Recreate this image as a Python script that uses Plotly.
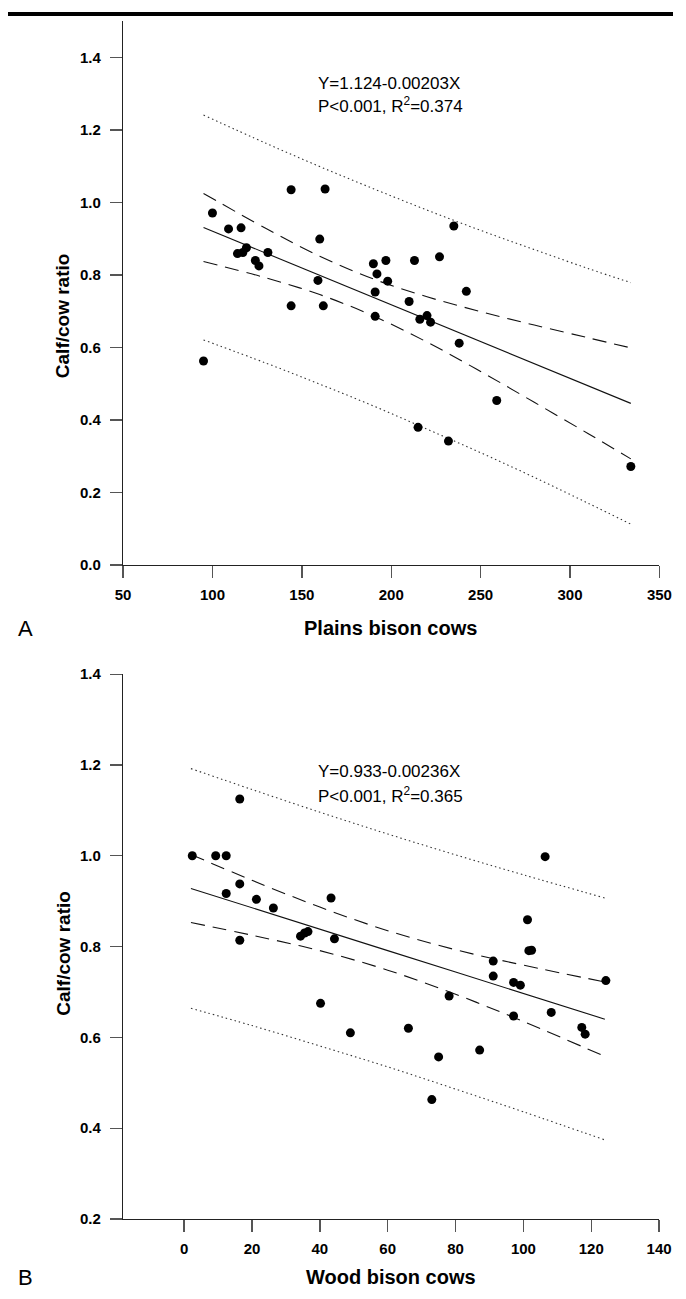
import plotly.graph_objects as go

# ---------------- Panel A: Plains bison ----------------
plains_cows = [95, 100, 109, 114, 116, 117, 119, 124, 126, 131, 144, 144, 159, 160, 162, 163,
               190, 191, 191, 192, 197, 198, 210, 213, 215, 216, 220, 222, 227, 232, 235, 238,
               242, 259, 334]
plains_ratio = [0.563, 0.971, 0.927, 0.859, 0.930, 0.862, 0.875, 0.840, 0.825, 0.862, 1.035, 0.715,
                0.785, 0.899, 0.715, 1.037, 0.831, 0.753, 0.686, 0.803, 0.840, 0.783, 0.727, 0.840,
                0.380, 0.678, 0.688, 0.670, 0.850, 0.342, 0.935, 0.612, 0.755, 0.454, 0.272]

plains_band_x = [95, 130, 160, 190, 220, 250, 280, 310, 334]
plains_fit = [0.931, 0.860, 0.799, 0.738, 0.677, 0.617, 0.556, 0.495, 0.446]
plains_ci_upper = [1.025, 0.928, 0.852, 0.789, 0.740, 0.699, 0.662, 0.627, 0.599]
plains_ci_lower = [0.837, 0.792, 0.746, 0.687, 0.615, 0.534, 0.449, 0.363, 0.293]
plains_pi_upper = [1.241, 1.163, 1.099, 1.038, 0.979, 0.923, 0.870, 0.818, 0.779]
plains_pi_lower = [0.621, 0.557, 0.499, 0.439, 0.375, 0.310, 0.242, 0.171, 0.113]

# ---------------- Panel B: Wood bison ----------------
wood_cows = [16.4, 2.4, 9.3, 12.4, 16.4, 12.4, 21.3, 26.3, 43.3, 16.4, 34.3, 35.5, 36.5, 44.3,
             106.4, 101.2, 101.6, 102.4, 91.1, 91.1, 97.1, 99.1, 124.3, 78.1, 40.2, 97.1,
             108.2, 117.2, 118.2, 49.0, 66.1, 87.1, 75.0, 73.0]
wood_ratio = [1.125, 1.000, 1.000, 1.000, 0.938, 0.917, 0.904, 0.885, 0.907, 0.814, 0.823, 0.830,
              0.833, 0.817, 0.998, 0.859, 0.791, 0.792, 0.768, 0.735, 0.721, 0.715, 0.725, 0.691,
              0.675, 0.647, 0.655, 0.622, 0.607, 0.610, 0.620, 0.572, 0.557, 0.463]

wood_band_x = [2, 20, 40, 60, 80, 100, 124]
wood_fit = [0.928, 0.886, 0.839, 0.791, 0.744, 0.697, 0.640]
wood_ci_upper = [1.003, 0.946, 0.887, 0.835, 0.793, 0.759, 0.722]
wood_ci_lower = [0.853, 0.825, 0.791, 0.748, 0.695, 0.635, 0.558]
wood_pi_upper = [1.192, 1.146, 1.096, 1.048, 1.002, 0.958, 0.907]
wood_pi_lower = [0.664, 0.626, 0.581, 0.535, 0.486, 0.436, 0.374]

plains_ticks_x = [50, 100, 150, 200, 250, 300, 350]
plains_ticks_y = [0.0, 0.2, 0.4, 0.6, 0.8, 1.0, 1.2, 1.4]
wood_ticks_x = [0, 20, 40, 60, 80, 100, 120, 140]
wood_ticks_y = [0.2, 0.4, 0.6, 0.8, 1.0, 1.2, 1.4]

W, H = 686, 1299


def px(x):
    return x / W


def py(y):
    return 1 - y / H


fig = go.Figure()

def add_panel(xref, yref, bx, fit, ciu, cil, piu, pil, xs, ys):
    common = dict(xaxis=xref, yaxis=yref, mode="lines", showlegend=False, hoverinfo="skip")
    for band in (piu, pil):
        fig.add_trace(go.Scatter(x=bx, y=band, line=dict(color="#333", width=1.1, dash="1.5px,3px", shape="spline"), **common))
    for band in (ciu, cil):
        fig.add_trace(go.Scatter(x=bx, y=band, line=dict(color="#111", width=1.1, dash="14px,8px", shape="spline"), **common))
    fig.add_trace(go.Scatter(x=bx, y=fit, line=dict(color="#111", width=1.1), **common))
    fig.add_trace(go.Scatter(x=xs, y=ys, xaxis=xref, yaxis=yref, mode="markers", showlegend=False,
                             marker=dict(color="black", size=9, line=dict(width=0))))

add_panel("x", "y", plains_band_x, plains_fit, plains_ci_upper, plains_ci_lower,
          plains_pi_upper, plains_pi_lower, plains_cows, plains_ratio)
add_panel("x2", "y2", wood_band_x, wood_fit, wood_ci_upper, wood_ci_lower,
          wood_pi_upper, wood_pi_lower, wood_cows, wood_ratio)

tickfont = dict(family="Arial, Liberation Sans, sans-serif", size=15, color="black", weight="bold")
axis_common = dict(showgrid=False, zeroline=False, showline=True, linecolor="#222", linewidth=1.3,
                   ticks="outside", ticklen=12, tickwidth=1.3, tickcolor="#555", tickfont=tickfont,
                   mirror=False, fixedrange=True)

fig.update_layout(
    width=W, height=H,
    paper_bgcolor="white", plot_bgcolor="white",
    margin=dict(l=0, r=0, t=0, b=0),
    showlegend=False,
    xaxis=dict(domain=[118.7 / W, 672.0 / W], range=[50, 350], tickvals=plains_ticks_x,
               anchor="y", ticklabelstandoff=4, **axis_common),
    yaxis=dict(domain=[py(563.5), py(12.3)], range=[0, 1.5], tickvals=plains_ticks_y,
               tickformat=".1f", anchor="x", ticklabelstandoff=6, **axis_common),
    xaxis2=dict(domain=[118.7 / W, 671.7 / W], range=[-18, 140], tickvals=wood_ticks_x,
                anchor="y2", ticklabelstandoff=4, **axis_common),
    yaxis2=dict(domain=[py(1226.0), py(674.0)], range=[0.2, 1.4], tickvals=wood_ticks_y,
                tickformat=".1f", anchor="x2", ticklabelstandoff=6, **axis_common),
)

title_font = dict(family="Arial, Liberation Sans, sans-serif", size=20, color="black", weight="bold")
ytitle_font = dict(family="Arial, Liberation Sans, sans-serif", size=19, color="black", weight="bold")
eq_font = dict(family="Arial, Liberation Sans, sans-serif", size=17, color="black")
letter_font = dict(family="Liberation Sans Narrow, Arial Narrow, Arial, sans-serif", size=22, color="black")

annotations = [
    dict(text="Plains bison cows", x=px(395), y=py(627), font=title_font),
    dict(text="Wood bison cows", x=px(395), y=py(1285), font=title_font),
    dict(text="Calf/cow ratio", x=px(57), y=py(311), font=ytitle_font, textangle=-90),
    dict(text="Calf/cow ratio", x=px(57), y=py(957), font=ytitle_font, textangle=-90),
    dict(text="A", x=px(18), y=py(628), font=letter_font),
    dict(text="B", x=px(18), y=py(1285), font=letter_font),
    dict(text="Y=1.124-0.00203X", x=px(318), y=py(75), font=eq_font, xanchor="left"),
    dict(text="P<0.001, R<sup>2</sup>=0.374", x=px(318), y=py(97), font=eq_font, xanchor="left"),
    dict(text="Y=0.933-0.00236X", x=px(318), y=py(773), font=eq_font, xanchor="left"),
    dict(text="P<0.001, R<sup>2</sup>=0.365", x=px(318), y=py(796), font=eq_font, xanchor="left"),
]
for a in annotations:
    a.setdefault("xanchor", "center")
    a.update(xref="paper", yref="paper", yanchor="middle", showarrow=False)
fig.update_layout(annotations=annotations)

# page header rule
fig.add_shape(type="line", xref="paper", yref="paper", x0=0, x1=1, y0=py(5), y1=py(5),
              line=dict(color="black", width=4))

fig.write_html(
    "out.html",
    config={"displayModeBar": False, "staticPlot": True},
    post_script="document.body.style.margin='0px';document.body.style.overflow='hidden';",
)
